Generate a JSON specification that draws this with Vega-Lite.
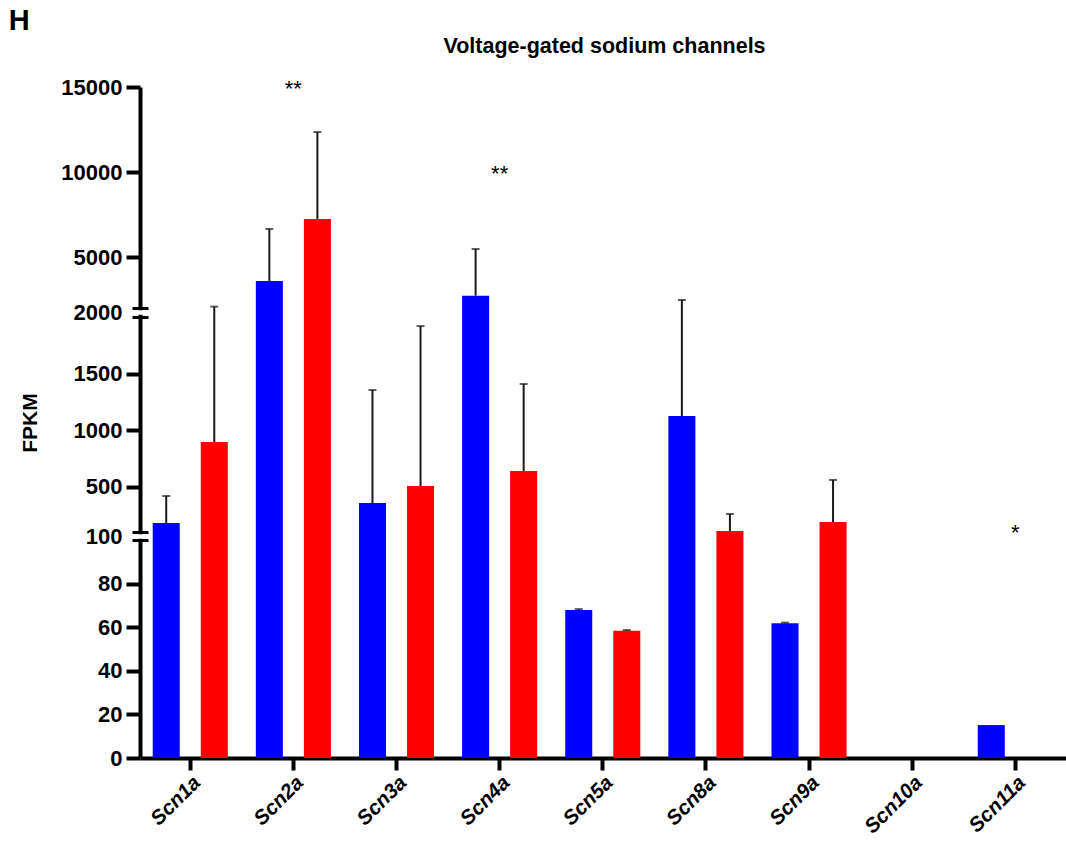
{
  "$schema": "https://vega.github.io/schema/vega-lite/v6.json",
  "padding": {"left": 8, "top": 6, "right": 0, "bottom": 0},
  "background": "white",
  "config": {"font": "Liberation Sans", "view": {"stroke": null}},
  "title": {"text": "H", "anchor": "start", "frame": "bounds", "fontSize": 29, "fontWeight": "bold", "color": "black", "offset": 0, "dx": -11},
  "vconcat": [
    {
      "width": 929,
      "height": 671,
      "title": {"text": "Voltage-gated sodium channels", "fontSize": 21.5, "fontWeight": "bold", "color": "black", "anchor": "middle", "offset": 19},
      "data": {
        "values": [
          {"gene": "Scn1a", "series": "A", "fpkm": 180, "err": 418},
          {"gene": "Scn1a", "series": "B", "fpkm": 895, "err": 2080},
          {"gene": "Scn2a", "series": "A", "fpkm": 3590, "err": 6650},
          {"gene": "Scn2a", "series": "B", "fpkm": 7235, "err": 12350},
          {"gene": "Scn3a", "series": "A", "fpkm": 356, "err": 1355},
          {"gene": "Scn3a", "series": "B", "fpkm": 506, "err": 1920},
          {"gene": "Scn4a", "series": "A", "fpkm": 2724, "err": 5471},
          {"gene": "Scn4a", "series": "B", "fpkm": 639, "err": 1408},
          {"gene": "Scn5a", "series": "A", "fpkm": 67.9, "err": 68.3},
          {"gene": "Scn5a", "series": "B", "fpkm": 58.4, "err": 58.7},
          {"gene": "Scn8a", "series": "A", "fpkm": 1125, "err": 2470},
          {"gene": "Scn8a", "series": "B", "fpkm": 108, "err": 259},
          {"gene": "Scn9a", "series": "A", "fpkm": 61.8, "err": 62.1},
          {"gene": "Scn9a", "series": "B", "fpkm": 188, "err": 560},
          {"gene": "Scn10a", "series": "A", "fpkm": 0, "err": null},
          {"gene": "Scn10a", "series": "B", "fpkm": 0, "err": null},
          {"gene": "Scn11a", "series": "A", "fpkm": 15.1, "err": null},
          {"gene": "Scn11a", "series": "B", "fpkm": 0, "err": null}
        ]
      },
      "encoding": {
        "x": {
          "field": "gene",
          "type": "nominal",
          "sort": ["Scn1a", "Scn2a", "Scn3a", "Scn4a", "Scn5a", "Scn8a", "Scn9a", "Scn10a", "Scn11a"],
          "scale": {"paddingInner": 0.272, "paddingOuter": 0.14, "align": 0.44},
          "axis": {
            "title": null,
            "labelAngle": -45,
            "labelFontSize": 20.5,
            "labelFontStyle": "italic",
            "labelFontWeight": "bold",
            "labelColor": "black",
            "labelPadding": 2,
            "tickSize": 12,
            "tickWidth": 4,
            "tickColor": "black",
            "domainWidth": 4,
            "domainColor": "black",
            "grid": false
          }
        }
      },
      "layer": [
        {
          "mark": {"type": "bar"},
          "encoding": {
            "xOffset": {"field": "series", "type": "nominal", "scale": {"paddingInner": 0.4375, "paddingOuter": 0}},
            "y": {
              "field": "fpkm",
              "type": "quantitative",
              "scale": {"domain": [0, 100, 100.01, 2000, 2000.01, 15000], "range": [671, 453, 445, 230, 221, 0], "nice": false, "zero": false},
              "axis": {
                "orient": "left",
                "values": [0, 20, 40, 60, 80, 100.005, 500, 1000, 1500, 2000.005, 5000, 10000, 15000],
                "format": "d",
                "labelFontSize": 22,
                "labelFontWeight": "bold",
                "labelColor": "black",
                "labelOverlap": false,
                "labelFlush": false,
                "labelPadding": 4,
                "tickSize": 14,
                "tickWidth": 4,
                "tickColor": "black",
                "tickOpacity": {"condition": {"test": "datum.value == 100.005 || datum.value == 2000.005", "value": 0}, "value": 1},
                "domainWidth": 4,
                "domainColor": "black",
                "grid": false,
                "title": "FPKM",
                "titleFontSize": 21,
                "titleFontWeight": "bold",
                "titleColor": "black",
                "titlePadding": 20,
                "zindex": 1
              }
            },
            "color": {"field": "series", "type": "nominal", "scale": {"domain": ["A", "B"], "range": ["#0000ff", "#ff0000"]}, "legend": null}
          }
        },
        {
          "transform": [{"filter": "datum.err != null"}],
          "mark": {"type": "rule", "strokeWidth": 2, "color": "#1a1a1a"},
          "encoding": {
            "xOffset": {"field": "series", "type": "nominal"},
            "y": {
              "field": "fpkm",
              "type": "quantitative",
              "axis": {"orient": "left", "values": [100, 100.01, 2000, 2000.01], "offset": -8, "tickSize": 16, "tickWidth": 3, "tickColor": "black", "labels": false, "domain": false, "grid": false, "title": null, "zindex": 3}
            },
            "y2": {"field": "err"}
          }
        },
        {
          "transform": [{"filter": "datum.err != null"}],
          "mark": {"type": "tick", "size": 8, "thickness": 2, "color": "#1a1a1a"},
          "encoding": {
            "xOffset": {"field": "series", "type": "nominal"},
            "y": {
              "field": "err",
              "type": "quantitative",
              "axis": {"orient": "left", "values": [100.005, 2000.005], "offset": -3, "tickSize": 6, "tickWidth": 4.5, "tickColor": "white", "labels": false, "domain": false, "grid": false, "title": null, "zindex": 2}
            }
          }
        },
        {
          "data": {
            "values": [
              {"gene": "Scn2a", "mark": "**", "pos": 15000},
              {"gene": "Scn4a", "mark": "**", "pos": 10000},
              {"gene": "Scn11a", "mark": "*", "pos": 105}
            ]
          },
          "mark": {"type": "text", "fontSize": 22, "color": "black", "baseline": "middle", "dy": 2},
          "encoding": {
            "y": {"field": "pos", "type": "quantitative", "axis": null},
            "text": {"field": "mark"}
          }
        }
      ],
      "resolve": {"scale": {"y": "shared"}, "axis": {"y": "independent"}}
    }
  ]
}
